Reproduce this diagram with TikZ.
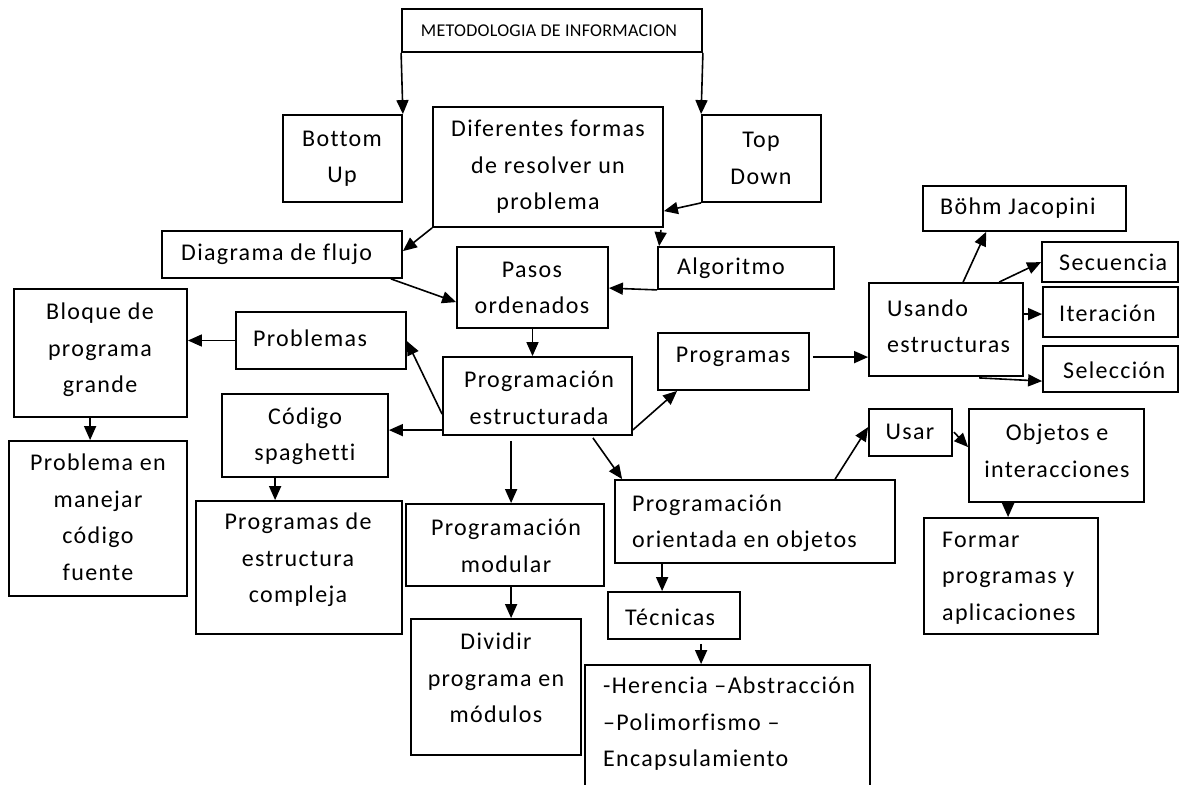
\documentclass[tikz,border=0pt]{standalone}
\usepackage{fontspec}
\setmainfont{Carlito}[LetterSpace=5.5, Ligatures=NoCommon]
\newfontfamily\titlefont{Carlito}[LetterSpace=1.5, Ligatures=NoCommon]
\usetikzlibrary{arrows.meta,calc}

\tikzset{
  box/.style={draw=black, line width=1.8pt, inner sep=0pt},
  txt/.style={inner sep=0pt, font=\fontsize{24}{36.5}\selectfont},
  lft/.style={txt, anchor=west, align=left},
  ctr/.style={txt, align=center},
  link/.style={line width=1.6pt, -{Triangle[length=14pt,width=12pt]}},
}
% \caja{name}{x1}{y1}{x2}{y2}: an empty framed box between two corners
\newcommand{\caja}[5]{\node[box, minimum width={#4pt-#2pt}, minimum height={#5pt-#3pt}] (#1) at ({(#2+#4)/2},{(#3+#5)/2}) {};}

\begin{document}
\begin{tikzpicture}[x=1pt,y=-1pt]
\fill[white] (0,0) rectangle (1180,784);
\useasboundingbox (0,0) rectangle (1180,784);
\clip (0,0) rectangle (1180,784);

% boxes
\caja{meto}{402}{9}{702}{52}
\caja{bottomup}{283}{115}{402}{202}
\caja{diferentes}{433}{107}{663}{227}
\caja{topdown}{702}{115}{821}{202}
\caja{diagrama}{162}{231}{402}{278}
\caja{pasos}{457}{247}{608}{328}
\caja{algoritmo}{658}{247}{834}{289}
\caja{bloque}{14}{289}{187}{417}
\caja{problemas}{236}{312}{406}{369}
\caja{pe}{443}{357}{632}{435}
\caja{programas}{658}{333}{809}{390}
\caja{usando}{869}{283}{1023}{376}
\caja{bohm}{923}{186}{1126}{231}
\caja{secuencia}{1042}{242}{1178}{282}
\caja{iteracion}{1043}{287}{1178}{337}
\caja{seleccion}{1043}{346}{1178}{392}
\caja{manejar}{9}{441}{187}{596}
\caja{codigo}{222}{394}{388}{477}
\caja{estructura}{196}{501}{402}{634}
\caja{pm}{406}{504}{604}{586}
\caja{dividir}{411}{619}{581}{755}
\caja{poo}{615}{480}{895}{563}
\caja{usar}{869}{409}{952}{456}
\caja{objetos}{969}{409}{1144}{502}
\caja{formar}{924}{518}{1098}{634}
\caja{tecnicas}{608}{592}{740}{639}
\caja{herencia}{585}{665}{870}{800}

% texts
\node[inner sep=0pt, font=\titlefont\fontsize{18}{22}\selectfont] (meto-t) at (549,31) {METODOLOGIA DE INFORMACION};
\node[ctr] (bottomup-t) at (342,158.5) {Bottom\\Up};
\node[ctr] (diferentes-t) at (548,167) {Diferentes formas\\de resolver un\\problema};
\node[ctr] (topdown-t) at (761,158.5) {Top\\Down};
\node[lft] (diagrama-t) at (181,254) {Diagrama de flujo};
\node[ctr] (pasos-t) at (532,288) {Pasos\\ordenados};
\node[lft] (algoritmo-t) at (677,268) {Algoritmo};
\node[ctr] (bloque-t) at (100,350) {Bloque de\\programa\\grande};
\node[lft] (problemas-t) at (253,338) {Problemas};
\node[ctr] (pe-t) at (539,398) {Programación\\estructurada};
\node[ctr] (programas-t) at (733,357) {Programas};
\node[lft] (usando-t) at (887,326.5) {Usando\\estructuras};
\node[lft] (bohm-t) at (940,208) {Böhm Jacopini};
\node[lft] (secuencia-t) at (1059,262) {Secuencia};
\node[lft] (iteracion-t) at (1059,313) {Iteración};
\node[lft] (seleccion-t) at (1063,370) {Selección};
\node[ctr] (manejar-t) at (98,517) {Problema en\\manejar\\código\\fuente};
\node[ctr] (codigo-t) at (305,436) {Código\\spaghetti};
\node[ctr] (estructura-t) at (298,560) {Programas de\\estructura\\compleja};
\node[ctr] (pm-t) at (506,546) {Programación\\modular};
\node[ctr] (dividir-t) at (496,678) {Dividir\\programa en\\módulos};
\node[lft] (poo-t) at (632,523.5) {Programación\\orientada en objetos};
\node[ctr] (usar-t) at (910,432) {Usar};
\node[ctr] (objetos-t) at (1057,451) {Objetos e\\interacciones};
\node[lft] (formar-t) at (942,578) {Formar\\programas y\\aplicaciones};
\node[lft] (tecnicas-t) at (625,617) {Técnicas};
\node[lft] (herencia-t) at (603,724) {-Herencia –Abstracción\\–Polimorfismo –\\Encapsulamiento};

% connectors
\draw[link] (meto.south west) -- (bottomup.north east);
\draw[link] (meto.south east) -- (topdown.north west);
\draw[link] (topdown.south west) -- ($(diferentes.north east)+(0,105)$);
\draw[link] (diferentes.south west) -- ($(diagrama.north east)+(0,21)$);
\draw[link] ($(diferentes.south east)+(-3,2)$) -- ($(algoritmo.north west)+(2,0)$);
\draw[link] ($(diagrama.south east)+(-12,0)$) -- ($(pasos.north west)+(0,56)$);
\draw[link] (algoritmo.south west) -- ($(pasos.north east)+(0,42)$);
\draw[link] (pasos.south) -- (pasos.south |- pe.north);
\draw[link] ($(pe.north west)+(0,58)$) -- ($(problemas.north east)+(0,30)$);
\draw[link] ($(pe.north west)+(0,74)$) -- ($(codigo.north east)+(0,37)$);
\draw[link] (problemas.west) -- (problemas.west -| bloque.east);
\draw[link] ($(bloque.south west)+(77,0)$) -- ($(manejar.north west)+(82,0)$);
\draw[link] ($(codigo.south west)+(54,0)$) -- ($(estructura.north west)+(80,0)$);
\draw[link] ($(pe.south west)+(69,5)$) -- ($(pm.north west)+(106,0)$);
\draw[link] ($(pm.south west)+(106,0)$) -- ($(dividir.north west)+(101,0)$);
\draw[link] ($(pe.south east)+(0,-6)$) -- ($(programas.south west)+(20,0)$);
\draw[link] ($(pe.south east)+(-40,2)$) -- ($(poo.north west)+(8,0)$);
\draw[link] ($(programas.north east)+(3,25)$) -- ($(usando.north west)+(0,75)$);
\draw[link] ($(usando.north west)+(95,0)$) -- ($(bohm.south west)+(64,0)$);
\draw[link] ($(usando.north west)+(131,0)$) -- ($(secuencia.north west)+(0,21)$);
\draw[link] ($(usando.north east)+(0,32)$) -- ($(iteracion.north west)+(0,28)$);
\draw[link] ($(usando.south west)+(111,1)$) -- ($(seleccion.north west)+(0,36)$);
\draw[link] ($(poo.north west)+(221,0)$) -- ($(usar.north west)+(0,19)$);
\draw[link] ($(usar.north east)+(1,24)$) -- ($(objetos.north west)+(0,39)$);
\draw[link] ($(objetos.south west)+(40,0)$) -- ($(formar.north west)+(85,0)$);
\draw[link] ($(poo.south west)+(48,0)$) -- ($(tecnicas.north west)+(55,0)$);
\draw[link] ($(tecnicas.south west)+(94,4)$) -- ($(herencia.north west)+(117,0)$);
\end{tikzpicture}
\end{document}
